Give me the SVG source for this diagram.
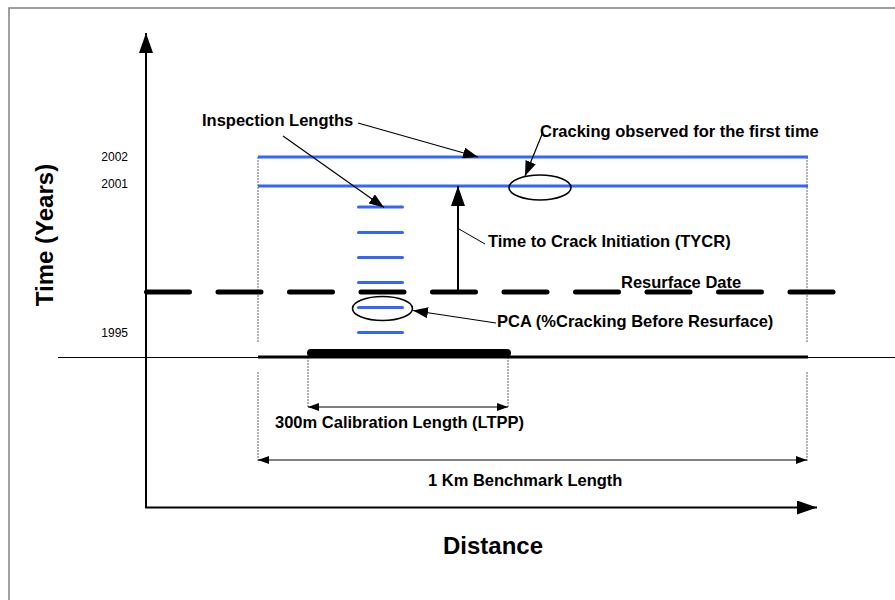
<svg xmlns="http://www.w3.org/2000/svg" width="895" height="600" viewBox="0 0 895 600">
  <style>
    .lbl { font-family: "Liberation Sans", Arial, sans-serif; font-weight: bold; font-size: 16.5px; fill: #000; }
    .axis-lbl { font-family: "Liberation Sans", Arial, sans-serif; font-weight: bold; font-size: 24px; fill: #000; }
    .year { font-family: "Liberation Sans", Arial, sans-serif; font-size: 12px; fill: #000; }
    .blue { stroke: #3366ff; stroke-width: 3; fill: none; }
    .insp { stroke: #3366ff; stroke-width: 3; stroke-linecap: round; }
    .guide { stroke: #666; stroke-width: 1; stroke-dasharray: 2 1; fill: none; }
    .leader { stroke: #000; stroke-width: 1.2; fill: none; marker-end: url(#head); }
    .dim { stroke: #000; stroke-width: 1.2; fill: none; marker-start: url(#dimS); marker-end: url(#dimE); }
    .ring { stroke: #000; stroke-width: 1.6; fill: none; }
  </style>
  <defs>
    <marker id="head" markerUnits="userSpaceOnUse" markerWidth="15" markerHeight="11" refX="15" refY="5.5" orient="auto">
      <path d="M0,0 L15,5.5 L0,11 z" fill="#000"/>
    </marker>
    <marker id="axisHead" markerUnits="userSpaceOnUse" markerWidth="20" markerHeight="14" refX="20" refY="7" orient="auto">
      <path d="M0,0 L20,7 L0,14 z" fill="#000"/>
    </marker>
    <marker id="dimE" markerUnits="userSpaceOnUse" markerWidth="11" markerHeight="8" refX="11" refY="4" orient="auto">
      <path d="M0,0 L11,4 L0,8 z" fill="#000"/>
    </marker>
    <marker id="dimS" markerUnits="userSpaceOnUse" markerWidth="11" markerHeight="8" refX="0" refY="4" orient="auto">
      <path d="M11,0 L0,4 L11,8 z" fill="#000"/>
    </marker>
  </defs>

  <rect width="895" height="600" fill="#fff"/>
  <!-- frame, open to the right and bottom -->
  <rect x="9" y="8" width="900" height="610" fill="none" stroke="#808080" stroke-width="1.5"/>

  <!-- axes -->
  <g id="axes">
    <line x1="146" y1="508" x2="146" y2="33" stroke="#000" stroke-width="2" marker-end="url(#axisHead)"/>
    <line x1="145" y1="507.5" x2="817" y2="507.5" stroke="#000" stroke-width="2" marker-end="url(#axisHead)"/>
    <text class="axis-lbl" transform="translate(53,235) rotate(-90)" text-anchor="middle">Time (Years)</text>
    <text class="axis-lbl" x="493" y="554" text-anchor="middle">Distance</text>
    <text class="year" x="128" y="161" text-anchor="end">2002</text>
    <text class="year" x="128" y="188" text-anchor="end">2001</text>
    <text class="year" x="128" y="337" text-anchor="end">1995</text>
  </g>

  <!-- section boundaries -->
  <g id="guides">
    <path class="guide" d="M258,157 V342 M258,372 V462 M807,157 V342 M807,372 V462"/>
    <path class="guide" d="M308,357 V408 M508,357 V408"/>
  </g>

  <!-- road section -->
  <g id="section">
    <line x1="58" y1="357.5" x2="895" y2="357.5" stroke="#000" stroke-width="1"/>
    <line x1="258" y1="357" x2="808" y2="357" stroke="#000" stroke-width="3"/>
    <line x1="311" y1="353" x2="507" y2="353" stroke="#000" stroke-width="8" stroke-linecap="round"/>
  </g>

  <!-- survey lines -->
  <g id="survey-2002"><line class="blue" x1="258" y1="157" x2="808" y2="157"/></g>
  <g id="survey-2001"><line class="blue" x1="258" y1="186" x2="808" y2="186"/></g>
  <g id="inspection-lengths">
    <line class="insp" x1="358.5" y1="207" x2="402.5" y2="207"/>
    <line class="insp" x1="358.5" y1="232.5" x2="402.5" y2="232.5"/>
    <line class="insp" x1="358.5" y1="257.5" x2="402.5" y2="257.5"/>
    <line class="insp" x1="358.5" y1="282.5" x2="402.5" y2="282.5"/>
    <line class="insp" x1="358.5" y1="307.5" x2="402.5" y2="307.5"/>
    <line class="insp" x1="358.5" y1="332.5" x2="402.5" y2="332.5"/>
  </g>

  <!-- resurface date -->
  <g id="resurface">
    <line x1="146.5" y1="292" x2="836" y2="292" stroke="#000" stroke-width="5" stroke-linecap="round" stroke-dasharray="43 28.5"/>
    <text class="lbl" x="621" y="288">Resurface Date</text>
  </g>

  <!-- highlighted observations -->
  <g id="first-crack">
    <ellipse class="ring" cx="540" cy="187.5" rx="31" ry="12.5"/>
  </g>
  <g id="pca-ring">
    <ellipse class="ring" cx="382.5" cy="308.5" rx="30" ry="12"/>
  </g>

  <!-- labels -->
  <g id="label-inspection">
    <text class="lbl" x="202" y="126">Inspection Lengths</text>
  </g>
  <g id="label-cracking">
    <text class="lbl" x="540" y="137">Cracking observed for the first time</text>
  </g>
  <g id="label-tycr">
    <text class="lbl" x="488" y="247">Time to Crack Initiation (TYCR)</text>
  </g>
  <g id="label-pca">
    <text class="lbl" x="497" y="327">PCA (%Cracking Before Resurface)</text>
  </g>
  <g id="label-calibration">
    <text class="lbl" x="275" y="428">300m Calibration Length (LTPP)</text>
  </g>
  <g id="label-benchmark">
    <text class="lbl" x="428" y="486">1 Km Benchmark Length</text>
  </g>

  <!-- connectors -->
  <g id="connectors">
    <line class="leader" x1="358" y1="123" x2="478" y2="157"/>
    <line class="leader" x1="283" y1="136" x2="384" y2="207.5"/>
    <line class="leader" x1="543" y1="132" x2="525" y2="176"/>
    <line class="leader" x1="496" y1="323" x2="413" y2="310.5"/>
    <line x1="458" y1="292" x2="458" y2="186" stroke="#000" stroke-width="2" marker-end="url(#axisHead)"/>
    <line x1="459" y1="229" x2="485" y2="244" stroke="#000" stroke-width="1"/>
    <line class="dim" x1="308" y1="407" x2="508" y2="407"/>
    <line class="dim" x1="258" y1="460" x2="807" y2="460"/>
  </g>
</svg>
